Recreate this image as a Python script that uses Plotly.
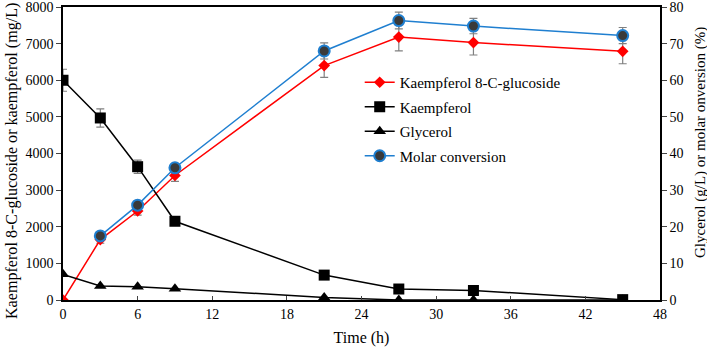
import plotly.graph_objects as go

time = [0, 3, 6, 9, 21, 27, 33, 45]
k8g = [0, 1650, 2430, 3400, 6400, 7180, 7030, 6790]
k8g_err = [0, 100, 110, 160, 320, 380, 340, 340]
kaemp = [6000, 4970, 3640, 2150, 680, 300, 260, 10]
kaemp_err = [300, 250, 180, 60, 40, 30, 30, 10]
glycerol = [7.0, 3.8, 3.6, 3.1, 0.7, 0.0, 0.0, 0.0]
conv_time = [3, 6, 9, 21, 27, 33, 45]
conv = [17.5, 25.9, 36.1, 68.0, 76.3, 74.8, 72.2]
conv_err = [0.8, 0.8, 1.2, 2.2, 2.3, 2.1, 2.2]

FONT = "Liberation Serif"
ERRC = "#808080"

fig = go.Figure()
fig.add_trace(go.Scatter(
    x=time, y=k8g, name="Kaempferol 8-C-glucoside", mode="lines+markers",
    line=dict(color="#FF0000", width=1.5),
    marker=dict(symbol="diamond", size=9, color="#FF0000"),
    error_y=dict(type="data", array=k8g_err, color=ERRC, thickness=1.2, width=4),
    legendgroup="a", yaxis="y"))
fig.add_trace(go.Scatter(
    x=time, y=kaemp, name="Kaempferol", mode="lines+markers",
    line=dict(color="#000000", width=1.5),
    marker=dict(symbol="square", size=11, color="#000000"),
    error_y=dict(type="data", array=kaemp_err, color=ERRC, thickness=1.2, width=4),
    legendgroup="b", yaxis="y"))
fig.add_trace(go.Scatter(
    x=time, y=glycerol, name="Glycerol", mode="lines+markers",
    line=dict(color="#000000", width=1.5),
    marker=dict(symbol="triangle-up", size=11, color="#000000"),
    legendgroup="c", yaxis="y2"))
fig.add_trace(go.Scatter(
    x=conv_time, y=conv, name="Molar conversion", mode="lines+markers",
    line=dict(color="#1F7FD0", width=1.5),
    marker=dict(symbol="circle", size=11, color="#3A3A3A",
                line=dict(color="#1F7FD0", width=2)),
    error_y=dict(type="data", array=conv_err, color=ERRC, thickness=1.2, width=4),
    legendgroup="d", yaxis="y2"))

TOP = 7
PH = 300 - TOP

fig.update_layout(
    width=707, height=349,
    margin=dict(l=63, r=47, t=TOP, b=49, autoexpand=False),
    paper_bgcolor="white", plot_bgcolor="white",
    font=dict(family=FONT, size=14, color="black"),
    showlegend=True,
    legend=dict(x=0.497, y=(300 - 66) / PH, xanchor="left", yanchor="top",
                bgcolor="rgba(0,0,0,0)", font=dict(family=FONT, size=15),
                tracegroupgap=2, itemwidth=30),
    xaxis=dict(range=[0, 48], tickvals=list(range(0, 49, 6)), ticks="inside",
               ticklen=4, showline=True, linecolor="black", linewidth=1.5,
               mirror=True, showgrid=False, zeroline=False, automargin=False,
               ticklabeloverflow="allow",
               title=dict(text="Time (h)", font=dict(family=FONT, size=16), standoff=11),
               tickfont=dict(family=FONT, size=14)),
    yaxis=dict(range=[0, 8000], tickvals=list(range(0, 8001, 1000)), ticks="outside",
               ticklen=5, showline=True, linecolor="black", linewidth=1.5,
               showgrid=False, zeroline=False, automargin=False,
               ticklabeloverflow="allow",
               tickfont=dict(family=FONT, size=14)),
    yaxis2=dict(range=[0, 80], tickvals=list(range(0, 81, 10)), ticks="outside",
                ticklen=5, overlaying="y", side="right", showline=True,
                linecolor="black", linewidth=1.5, showgrid=False, zeroline=False,
                automargin=False, ticklabeloverflow="allow",
                tickfont=dict(family=FONT, size=14)),
    annotations=[
        dict(text="Kaempferol 8-C-glucoside or kaempferol (mg/L)", textangle=-90,
             xref="paper", yref="paper", x=(12 - 63) / 597, y=(300 - 161) / PH,
             xanchor="center", yanchor="middle", showarrow=False,
             font=dict(family=FONT, size=16.1)),
        dict(text="Glycerol (g/L) or molar onversion (%)", textangle=-90,
             xref="paper", yref="paper", x=(700 - 63) / 597, y=(300 - 143) / PH,
             xanchor="center", yanchor="middle", showarrow=False,
             font=dict(family=FONT, size=15)),
    ],
)

fig.write_html("out.html", config={"displayModeBar": False},
               post_script="document.body.style.margin='0';document.body.style.overflow='hidden';")
